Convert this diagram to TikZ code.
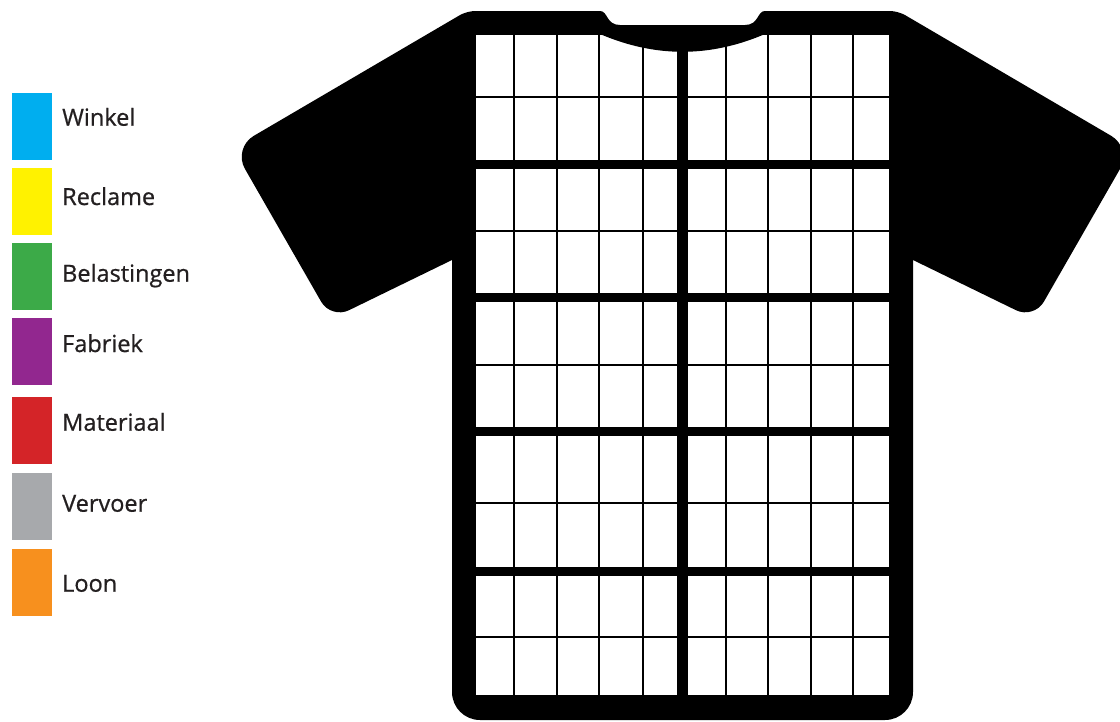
\documentclass[tikz,border=0pt]{standalone}
\usepackage{fontspec}
\setmainfont{Open Sans}
\newfontfamily\lblfont[FakeBold=0.7]{Open Sans}
\definecolor{cwinkel}{HTML}{00AEEF}
\definecolor{creclame}{HTML}{FFF200}
\definecolor{cbelast}{HTML}{3CAA48}
\definecolor{cfabriek}{HTML}{92278F}
\definecolor{cmateriaal}{HTML}{D42428}
\definecolor{cvervoer}{HTML}{A7A9AC}
\definecolor{cloon}{HTML}{F7901E}
\definecolor{txt}{HTML}{231F20}
\tikzset{
  swatch/.style={draw=none, fill=#1, minimum width=40pt, minimum height=67pt, inner sep=0pt, anchor=north west},
  lbl/.style={anchor=base west, inner sep=0pt, text=txt, font=\lblfont\fontsize{23.5}{28}\selectfont},
  shirt/.style={fill=black},
  thin/.style={line width=2pt, black},
  thick/.style={line width=9pt, black},
}
\begin{document}
\begin{tikzpicture}[x=1pt, y=-1pt]
\useasboundingbox (0,0) rectangle (1120,721);
\fill[white] (0,0) rectangle (1120,721);

% legend
\node[swatch=cwinkel]    (s1) at (12,93)  {};
\node[swatch=creclame]   (s2) at (12,168) {};
\node[swatch=cbelast]    (s3) at (12,243) {};
\node[swatch=cfabriek]   (s4) at (12,318) {};
\node[swatch=cmateriaal] (s5) at (12,397) {};
\node[swatch=cvervoer]   (s6) at (12,473) {};
\node[swatch=cloon]      (s7) at (12,549) {};
\node[lbl] (l1) at (62,125.7) {Winkel};
\node[lbl] (l2) at (62,205)   {Reclame};
\node[lbl] (l3) at (62,281.7) {Belastingen};
\node[lbl] (l4) at (62,352)   {Fabriek};
\node[lbl] (l5) at (62,430.7) {Materiaal};
\node[lbl] (l6) at (62,511.7) {Vervoer};
\node[lbl] (l7) at (62,591.7) {Loon};

% shirt silhouette
\fill[shirt] (540,11) -- (475,11) .. controls (470.6,11) and (463.9,12.8) .. (460.1,15.0)
  -- (253.7,135.9) .. controls (242.3,142.6) and (238.3,157.3) .. (244.9,168.8)
  -- (321.1,301.6) .. controls (326.5,311.2) and (339.1,315.1) .. (349.0,310.2)
  -- (452,260)
  -- (452,692) .. controls (452,707.5) and (464.5,720) .. (480,720)
  -- (885,720) .. controls (900.5,720) and (913,707.5) .. (913,692)
  -- (913,260)
  -- (1016.0,310.2) .. controls (1025.9,315.1) and (1038.5,311.2) .. (1043.9,301.6)
  -- (1120.1,168.8) .. controls (1126.7,157.3) and (1122.7,142.6) .. (1111.3,135.9)
  -- (904.9,15.0) .. controls (901.1,12.8) and (894.4,11) .. (890,11)
  -- (765,11) .. controls (757,11) and (759,25) .. (745,25)
  -- (620,25) .. controls (606,25) and (608,11) .. (600,11) -- cycle;

% inner white panel
\fill[white] (476,35) rectangle (889,695);

% thin grid lines
\foreach \yy in {97,231,365,503,637}
  \draw[thin] (476,\yy) -- (889,\yy);
\foreach \xx in {514,556.5,599,642.5,726,768,810.5,853}
  \draw[thin] (\xx,35) -- (\xx,695);
% thick dividers
\foreach \yy in {164,297,431,571}
  \draw[thick] (476,\yy) -- (889,\yy);
\draw[line width=11pt, black] (682.5,35) -- (682.5,695);

% collar band
\fill[shirt] (600,34) .. controls (655,57.7) and (710,57.7) .. (765,34) -- cycle;
\end{tikzpicture}
\end{document}
